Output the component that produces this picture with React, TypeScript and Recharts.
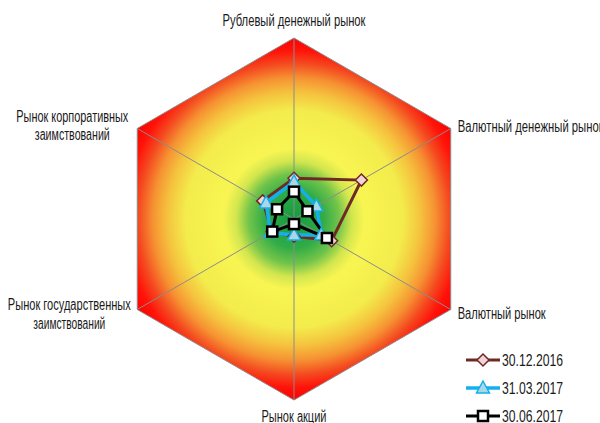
import { Legend, PolarAngleAxis, PolarRadiusAxis, Radar, RadarChart } from 'recharts'

const categories = [
  'Рублевый денежный рынок',
  'Валютный денежный рынок',
  'Валютный рынок',
  'Рынок акций',
  'Рынок государственных заимствований',
  'Рынок корпоративных заимствований',
]
// axis labels as drawn (two lines for the long ones)
const labelLines = [
  ['Рублевый денежный рынок'],
  ['Валютный денежный рынок'],
  ['Валютный рынок'],
  ['Рынок акций'],
  ['Рынок государственных', 'заимствований'],
  ['Рынок корпоративных', 'заимствований'],
]
const seriesNames = ['30.12.2016', '31.03.2017', '30.06.2017']
const dec2016 = [22.5, 43, 24, 9.5, 14, 20]
const mar2017 = [20.5, 14.3, 17.4, 8.8, 15, 17.8]
const jun2017 = [15.1, 8.6, 21, 2.8, 13.9, 10.8]
const scaleMax = 100

// the source uses a very condensed face; squeeze Liberation Sans to the same widths
const FONT = '"Liberation Sans", Arial, sans-serif'

const data = categories.map((name, i) => ({
  name,
  outer: scaleMax,
  s0: dec2016[i],
  s1: mar2017[i],
  s2: jun2017[i],
}))

// label placement relative to the tick anchor (outer radius + 8), with line widths
const labelLayout = [
  { anchor: 'middle', dx: 0, dy: [-4], w: [143] },
  { anchor: 'start', dx: 0, dy: [7.5], w: [146] },
  { anchor: 'start', dx: 0, dy: [5], w: [88] },
  { anchor: 'middle', dx: 0, dy: [14], w: [65] },
  { anchor: 'middle', dx: -61, dy: [-4, 15], w: [123, 72] },
  { anchor: 'middle', dx: -58, dy: [-3, 15.5], w: [112, 75] },
]

function AxisLabel(props: any) {
  const { x, y, payload } = props
  const i = categories.indexOf(payload.value)
  const lay = labelLayout[i]
  return (
    <g>
      {labelLines[i].map((line, k) => (
        <text
          key={k}
          x={x + lay.dx}
          y={y + lay.dy[k]}
          textAnchor={lay.anchor}
          fontFamily={FONT}
          fontSize={16}
          fill="#1a1a1a"
          textLength={lay.w[k]}
          lengthAdjust="spacingAndGlyphs"
        >
          {line}
        </text>
      ))}
    </g>
  )
}

// hexagon background with a radial heat gradient and the spokes
function HeatBackground(props: any) {
  const points = props.points || []
  if (!points.length) return null
  const cx = points[0].cx ?? points.reduce((s: number, p: any) => s + p.x, 0) / points.length
  const cy = points[0].cy ?? points.reduce((s: number, p: any) => s + p.y, 0) / points.length
  const r = Math.hypot(points[0].x - cx, points[0].y - cy)
  const d = points.map((p: any, i: number) => `${i ? 'L' : 'M'}${p.x},${p.y}`).join('') + 'Z'
  return (
    <g>
      <defs>
        <radialGradient id="heat" gradientUnits="userSpaceOnUse" cx={cx} cy={cy} r={r}>
          <stop offset="0" stopColor="#159a3e" />
          <stop offset="0.16" stopColor="#30ab47" />
          <stop offset="0.25" stopColor="#72c44a" />
          <stop offset="0.32" stopColor="#d2e64e" />
          <stop offset="0.39" stopColor="#f8f552" />
          <stop offset="0.6" stopColor="#f3ec4c" />
          <stop offset="0.7" stopColor="#f5c23e" />
          <stop offset="0.78" stopColor="#f69232" />
          <stop offset="0.86" stopColor="#f44a20" />
          <stop offset="0.93" stopColor="#ff140a" />
          <stop offset="1" stopColor="#ff0000" />
        </radialGradient>
      </defs>
      <path d={d} fill="url(#heat)" stroke="#8c8c8c" strokeWidth={1} />
      {points.map((p: any, i: number) => (
        <line key={i} x1={cx} y1={cy} x2={p.x} y2={p.y} stroke="#8c8c8c" strokeWidth={1} />
      ))}
    </g>
  )
}

function Diamond({ cx, cy }: any) {
  const s = 6
  return (
    <path
      d={`M${cx},${cy - s}L${cx + s},${cy}L${cx},${cy + s}L${cx - s},${cy}Z`}
      fill="#f2d4d8"
      stroke="#6e2b26"
      strokeWidth={1.5}
    />
  )
}

function Triangle({ cx, cy }: any) {
  return (
    <path
      d={`M${cx},${cy - 7}L${cx + 6.5},${cy + 5}L${cx - 6.5},${cy + 5}Z`}
      fill="#a9d7e6"
      stroke="#14b0ee"
      strokeWidth={1.5}
    />
  )
}

function Square({ cx, cy }: any) {
  return (
    <rect x={cx - 5} y={cy - 5} width={10} height={10} fill="#ffffff" stroke="#000000" strokeWidth={2.5} />
  )
}

const seriesStyle = [
  { key: 's0', color: '#6e2b26', width: 3, Dot: Diamond },
  { key: 's1', color: '#14b0ee', width: 3.5, Dot: Triangle },
  { key: 's2', color: '#000000', width: 3, Dot: Square },
]

function LegendBox() {
  return (
    <svg width={140} height={84}>
      {seriesStyle.map((s, i) => {
        const y = 14 + i * 28
        return (
          <g key={s.key}>
            <line x1={0} y1={y} x2={34} y2={y} stroke={s.color} strokeWidth={s.width} />
            <s.Dot cx={17} cy={y} />
            <text
              x={36}
              y={y + 6}
              fontFamily={FONT}
              fontSize={16}
              fill="#1a1a1a"
              textLength={61}
              lengthAdjust="spacingAndGlyphs"
            >
              {seriesNames[i]}
            </text>
          </g>
        )
      })}
    </svg>
  )
}

export default function App() {
  return (
    <div style={{ position: 'absolute', left: 0, top: 0, width: 600, height: 423, background: '#ffffff' }}>
      <RadarChart
        width={600}
        height={423}
        data={data}
        cx={294}
        cy={219}
        outerRadius={181}
        margin={{ top: 0, right: 0, bottom: 0, left: 0 }}
      >
        <PolarRadiusAxis type="number" domain={[0, scaleMax]} tick={false} axisLine={false} />
        <PolarAngleAxis dataKey="name" tick={<AxisLabel />} tickLine={false} axisLine={false} />
        <Radar
          dataKey="outer"
          isAnimationActive={false}
          shape={<HeatBackground />}
          legendType="none"
        />
        {seriesStyle.map((s, i) => (
          <Radar
            key={s.key}
            name={seriesNames[i]}
            dataKey={s.key}
            stroke={s.color}
            strokeWidth={s.width}
            fill="none"
            fillOpacity={0}
            dot={<s.Dot />}
            isAnimationActive={false}
          />
        ))}
        <Legend
          layout="vertical"
          align="center"
          verticalAlign="middle"
          content={<LegendBox />}
          wrapperStyle={{ left: 466, top: 346, width: 140, height: 84 }}
        />
      </RadarChart>
    </div>
  )
}
